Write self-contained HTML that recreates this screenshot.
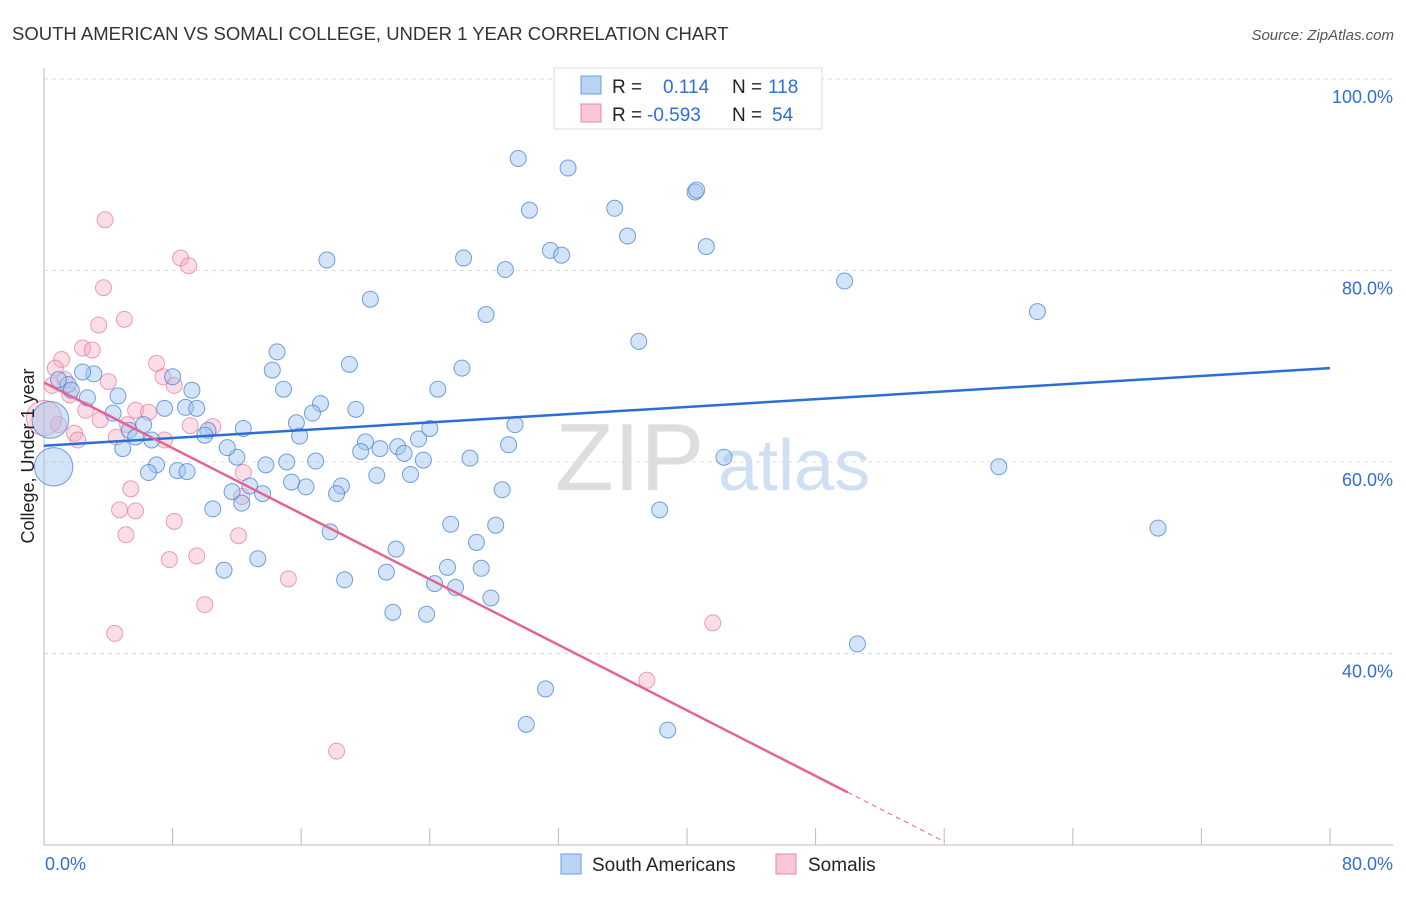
<!DOCTYPE html>
<html><head><meta charset="utf-8"><style>
body{margin:0;background:#fff;font-family:"Liberation Sans",sans-serif;}
svg text{font-family:"Liberation Sans",sans-serif;}
</style></head><body>
<svg id="chart" width="1406" height="892" xmlns="http://www.w3.org/2000/svg">
<text x="12" y="40" font-size="18.5" fill="#333">SOUTH AMERICAN VS SOMALI COLLEGE, UNDER 1 YEAR CORRELATION CHART</text>
<text x="1394" y="40" font-size="15" fill="#555" font-style="italic" text-anchor="end">Source: ZipAtlas.com</text>
<g>
<text x="555" y="490" font-size="96" font-family="Liberation Serif, serif" fill="#ddd">ZIP</text>
<text x="718" y="490" font-size="72" fill="#cfe0f4">atlas</text>
</g>
<g id="grid"></g>
<g id="axes"></g>
<g id="marks"></g>
<text transform="translate(34,456) rotate(-90)" font-size="18" fill="#222" text-anchor="middle">College, Under 1 year</text>
<g>
<rect x="554" y="68" width="268" height="61" fill="#fff" stroke="#ddd"/>
<rect x="581" y="76" width="20" height="18" fill="#b8d3f4" stroke="#6a9ee0"/>
<rect x="581" y="104" width="20" height="18" fill="#f9c6d4" stroke="#e88aa6"/>
<text x="612" y="93" font-size="19" fill="#222">R =  <tspan fill="#2f6fd6" x="663">0.114</tspan><tspan fill="#222" x="732">N =</tspan><tspan fill="#2f6fd6" x="768">118</tspan></text>
<text x="612" y="121" font-size="19" fill="#222">R = <tspan fill="#2f6fd6" x="647">-0.593</tspan><tspan fill="#222" x="732">N =</tspan><tspan fill="#2f6fd6" x="772">54</tspan></text>
</g>
<g>
<rect x="561" y="854" width="20" height="20" fill="#b8d3f4" stroke="#6a9ee0"/>
<text x="592" y="871" font-size="19" fill="#222">South Americans</text>
<rect x="776" y="854" width="20" height="20" fill="#f9c6d4" stroke="#e88aa6"/>
<text x="808" y="871" font-size="19" fill="#222">Somalis</text>
</g>
</svg>
<script>
const xTicks=[0,8,16,24,32,40,48,56,64,72,80];
const yTicks=[40,60,80,100];
const xTickLabels=["0.0%","80.0%"];
const blueX=[29.5,32.6,30.2,35.5,40.5,40.6,36.3,31.5,32.2,41.2,26.1,28.7,17.6,49.8,61.8,20.3,27.5,37.0,14.5,14.2,19.0,26.0,14.9,24.5,9.2,8.0,3.1,2.4,1.5,0.9,1.7,2.7,4.6,17.2,19.4,16.7,15.7,8.8,9.5,7.5,4.3,5.3,6.2,5.7,6.7,10.2,10.0,12.4,15.9,20.0,22.0,23.3,24.0,29.3,28.9,26.5,23.6,22.4,20.9,19.7,16.9,15.1,13.8,12.0,11.4,4.9,7.0,6.5,8.3,8.9,20.7,22.8,15.4,16.3,18.5,18.2,12.8,13.6,12.3,11.7,10.5,28.5,25.3,28.1,26.9,38.3,42.3,59.4,69.3,17.8,21.9,13.3,11.2,18.7,21.3,25.1,27.2,24.3,25.6,27.8,21.7,23.8,50.6,31.2,30.0,38.8,0.6,0.4];
const blueY=[91.7,90.7,86.3,86.5,88.2,88.4,83.6,82.1,81.6,82.5,81.3,80.1,81.1,78.9,75.7,77.0,75.4,72.6,71.5,69.6,70.2,69.8,67.6,67.6,67.5,68.9,69.2,69.4,68.1,68.6,67.5,66.7,66.9,66.1,65.5,65.1,64.1,65.7,65.6,65.6,65.1,63.3,63.9,62.6,62.3,63.3,62.8,63.5,62.7,62.1,61.6,62.4,63.5,63.9,61.8,60.4,60.2,60.9,61.4,61.1,60.1,60.0,59.7,60.5,61.5,61.4,59.7,58.9,59.1,59.0,58.6,58.7,57.9,57.4,57.5,56.7,57.5,56.7,55.7,56.9,55.1,57.1,53.5,53.4,51.6,55.0,60.5,59.5,53.1,52.7,50.9,49.9,48.7,47.7,48.5,49.0,48.9,47.3,46.9,45.8,44.3,44.1,41.0,36.3,32.6,32.0,59.5,64.4];
const blueSize=[1,1,1,1,1,1,1,1,1,1,1,1,1,1,1,1,1,1,1,1,1,1,1,1,1,1,1,1,1,1,1,1,1,1,1,1,1,1,1,1,1,1,1,1,1,1,1,1,1,1,1,1,1,1,1,1,1,1,1,1,1,1,1,1,1,1,1,1,1,1,1,1,1,1,1,1,1,1,1,1,1,1,1,1,1,1,1,1,1,1,1,1,1,1,1,1,1,1,1,1,1,1,1,1,1,1,2.4,2.3];
const pinkX=[3.8,8.5,9.0,3.7,5.0,3.4,1.1,2.4,3.0,7.0,7.4,8.1,4.0,0.7,1.3,0.5,1.6,2.6,3.5,5.7,6.5,4.5,5.2,7.5,9.1,10.5,1.9,2.1,0.9,5.4,4.7,5.7,5.1,8.1,7.8,9.5,12.1,12.4,12.3,15.2,10.0,4.4,18.2,37.5,41.6,0.0];
const pinkY=[85.3,81.3,80.5,78.2,74.9,74.3,70.7,71.9,71.7,70.3,68.9,68.0,68.4,69.8,68.6,68.0,67.0,65.4,64.4,65.4,65.2,62.6,63.9,62.3,63.8,63.7,63.0,62.3,63.9,57.2,55.0,54.9,52.4,53.8,49.8,50.2,52.3,58.9,56.4,47.8,45.1,42.1,29.8,37.2,43.2,64.6];
const pinkSize=[1,1,1,1,1,1,1,1,1,1,1,1,1,1,1,1,1,1,1,1,1,1,1,1,1,1,1,1,1,1,1,1,1,1,1,1,1,1,1,1,1,1,1,1,1,2.2];
const blueTrend=[61.7,69.8];
const pinkTrend=[68.3,25.5,50,56];

const NS="http://www.w3.org/2000/svg";
const X0=44,X1=1330,Y100=79,Y20=845;
const sx=v=>X0+(v/80)*(X1-X0);
const sy=v=>Y20-(v-20)/80*(Y20-Y100);
function mk(tag,attrs,parent){const e=document.createElementNS(NS,tag);for(const k in attrs)e.setAttribute(k,attrs[k]);document.getElementById(parent).appendChild(e);return e;}
yTicks.forEach(v=>{
  const l=mk('line',{x1:X0,x2:1393,y1:sy(v),y2:sy(v),stroke:'#ddd','stroke-dasharray':'4,4'},'grid');
  
  
  const t=mk('text',{x:1393,y:sy(v)+24,'font-size':18,fill:'#2f6fd6','text-anchor':'end'},'grid');
  t.textContent=v.toFixed(1)+'%';
  
  
});
const ya=mk('line',{x1:X0,x2:X0,y1:68,y2:Y20,stroke:'#bbb'},'axes');


const xa=mk('line',{x1:X0,x2:1393,y1:Y20,y2:Y20,stroke:'#bbb'},'axes');


xTicks.forEach(v=>{
  const t=mk('line',{x1:sx(v),x2:sx(v),y1:828,y2:Y20,stroke:'#bbb'},'axes');
  
  
});
const tl0=mk('text',{x:45,y:870,'font-size':18,fill:'#2f6fd6'},'axes');
tl0.textContent=xTickLabels[0];


const tl1=mk('text',{x:1393,y:870,'font-size':18,fill:'#2f6fd6','text-anchor':'end'},'axes');
tl1.textContent=xTickLabels[1];


pinkX.forEach((x,i)=>{
  const c=mk('circle',{cx:sx(x),cy:sy(pinkY[i]),r:8*pinkSize[i],fill:'rgba(246,170,192,0.4)',stroke:'rgba(230,120,155,0.7)','stroke-width':1},'marks');
  
  
});
blueX.forEach((x,i)=>{
  const c=mk('circle',{cx:sx(x),cy:sy(blueY[i]),r:8*blueSize[i],fill:'rgba(160,196,240,0.45)',stroke:'rgba(70,130,215,0.75)','stroke-width':1},'marks');
  
  
});
const bl=mk('line',{x1:sx(0),y1:sy(blueTrend[0]),x2:sx(80),y2:sy(blueTrend[1]),stroke:'#2a6ed6','stroke-width':2.5},'marks');


const slope=(pinkTrend[1]-pinkTrend[0])/pinkTrend[2];
const pl=mk('line',{x1:sx(0),y1:sy(pinkTrend[0]),x2:sx(pinkTrend[2]),y2:sy(pinkTrend[1]),stroke:'#e4648f','stroke-width':2.5},'marks');


const pd=mk('line',{x1:sx(pinkTrend[2]),y1:sy(pinkTrend[1]),x2:sx(pinkTrend[3]),y2:sy(pinkTrend[0]+slope*pinkTrend[3]),stroke:'#e4648f','stroke-width':1,'stroke-dasharray':'5,4'},'marks');


</script>
</body></html>
